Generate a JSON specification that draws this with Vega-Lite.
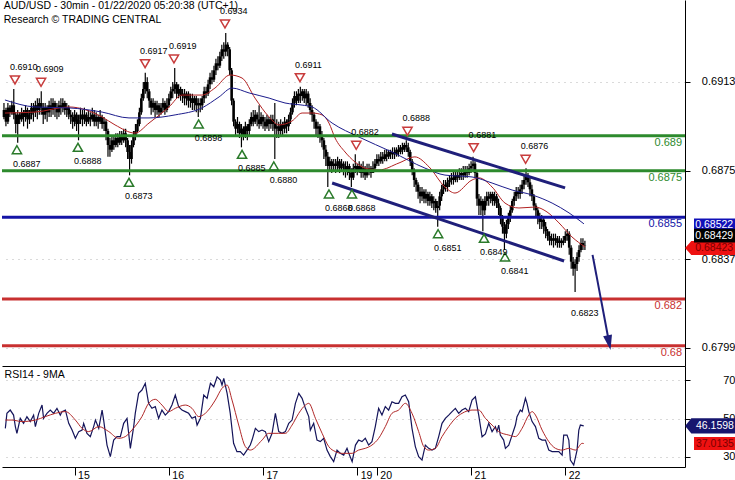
{
"$schema":"https://vega.github.io/schema/vega-lite/v6.json",
"padding":0,
"background":"white",
"spacing":0,
"bounds":"flush",
"config":{"font":"Liberation Sans","view":{"stroke":null}},
"datasets":{
"bars":[
{"t":1,"o":0.6898,"h":0.6904,"l":0.6897,"c":0.6901},
{"t":2,"o":0.6901,"h":0.6902,"l":0.6894,"c":0.6896},
{"t":3,"o":0.6896,"h":0.6904,"l":0.6895,"c":0.6902},
{"t":4,"o":0.6902,"h":0.6903,"l":0.6898,"c":0.69},
{"t":5,"o":0.69,"h":0.6905,"l":0.6899,"c":0.6903},
{"t":6,"o":0.6903,"h":0.691,"l":0.6897,"c":0.6899},
{"t":7,"o":0.6899,"h":0.69,"l":0.6891,"c":0.6895},
{"t":8,"o":0.6895,"h":0.6901,"l":0.6887,"c":0.6899},
{"t":9,"o":0.6899,"h":0.69,"l":0.6895,"c":0.6897},
{"t":10,"o":0.6897,"h":0.6902,"l":0.6896,"c":0.69},
{"t":11,"o":0.69,"h":0.6901,"l":0.6894,"c":0.6898},
{"t":12,"o":0.6898,"h":0.6903,"l":0.6896,"c":0.6901},
{"t":13,"o":0.6901,"h":0.6902,"l":0.6893,"c":0.6897},
{"t":14,"o":0.6897,"h":0.6901,"l":0.6895,"c":0.6899},
{"t":15,"o":0.6899,"h":0.6904,"l":0.6897,"c":0.6902},
{"t":16,"o":0.6902,"h":0.6904,"l":0.6896,"c":0.69},
{"t":17,"o":0.69,"h":0.6905,"l":0.6898,"c":0.6903},
{"t":18,"o":0.6903,"h":0.6906,"l":0.6897,"c":0.6901},
{"t":19,"o":0.6901,"h":0.6906,"l":0.6899,"c":0.6904},
{"t":20,"o":0.6904,"h":0.6909,"l":0.6899,"c":0.6902},
{"t":21,"o":0.6902,"h":0.6904,"l":0.6895,"c":0.6899},
{"t":22,"o":0.6899,"h":0.6904,"l":0.6897,"c":0.6902},
{"t":23,"o":0.6902,"h":0.6903,"l":0.6896,"c":0.69},
{"t":24,"o":0.69,"h":0.6905,"l":0.6898,"c":0.6903},
{"t":25,"o":0.6903,"h":0.6906,"l":0.6898,"c":0.6901},
{"t":26,"o":0.6901,"h":0.6906,"l":0.6899,"c":0.6904},
{"t":27,"o":0.6904,"h":0.6905,"l":0.6898,"c":0.6902},
{"t":28,"o":0.6902,"h":0.6904,"l":0.6897,"c":0.69},
{"t":29,"o":0.69,"h":0.6905,"l":0.6898,"c":0.6903},
{"t":30,"o":0.6903,"h":0.6906,"l":0.6899,"c":0.6902},
{"t":31,"o":0.6902,"h":0.6906,"l":0.69,"c":0.6904},
{"t":32,"o":0.6904,"h":0.6905,"l":0.6899,"c":0.6901},
{"t":33,"o":0.6901,"h":0.6904,"l":0.6898,"c":0.6902},
{"t":34,"o":0.6902,"h":0.6903,"l":0.6897,"c":0.6899},
{"t":35,"o":0.6899,"h":0.6901,"l":0.6895,"c":0.6898},
{"t":36,"o":0.6898,"h":0.69,"l":0.6893,"c":0.6896},
{"t":37,"o":0.6896,"h":0.6901,"l":0.6894,"c":0.6899},
{"t":38,"o":0.6899,"h":0.69,"l":0.6892,"c":0.6895},
{"t":39,"o":0.6895,"h":0.6899,"l":0.6888,"c":0.6897},
{"t":40,"o":0.6897,"h":0.6902,"l":0.6895,"c":0.6899},
{"t":41,"o":0.6899,"h":0.6901,"l":0.6894,"c":0.6897},
{"t":42,"o":0.6897,"h":0.6902,"l":0.6895,"c":0.6899},
{"t":43,"o":0.6899,"h":0.69,"l":0.6894,"c":0.6896},
{"t":44,"o":0.6896,"h":0.6901,"l":0.6895,"c":0.6898},
{"t":45,"o":0.6898,"h":0.69,"l":0.6894,"c":0.6897},
{"t":46,"o":0.6897,"h":0.6902,"l":0.6896,"c":0.6899},
{"t":47,"o":0.6899,"h":0.6901,"l":0.6894,"c":0.6896},
{"t":48,"o":0.6896,"h":0.69,"l":0.6894,"c":0.6898},
{"t":49,"o":0.6898,"h":0.6899,"l":0.6893,"c":0.6896},
{"t":50,"o":0.6896,"h":0.6901,"l":0.6895,"c":0.6898},
{"t":51,"o":0.6898,"h":0.6899,"l":0.6893,"c":0.6895},
{"t":52,"o":0.6895,"h":0.6898,"l":0.6892,"c":0.6896},
{"t":53,"o":0.6896,"h":0.6897,"l":0.6888,"c":0.6892},
{"t":54,"o":0.6892,"h":0.6893,"l":0.6881,"c":0.6886},
{"t":55,"o":0.6886,"h":0.6889,"l":0.6881,"c":0.6884},
{"t":56,"o":0.6884,"h":0.689,"l":0.6883,"c":0.6888},
{"t":57,"o":0.6888,"h":0.689,"l":0.6884,"c":0.6886},
{"t":58,"o":0.6886,"h":0.6891,"l":0.6885,"c":0.6889},
{"t":59,"o":0.6889,"h":0.6891,"l":0.6885,"c":0.6887},
{"t":60,"o":0.6887,"h":0.6892,"l":0.6886,"c":0.689},
{"t":61,"o":0.689,"h":0.6892,"l":0.6886,"c":0.6888},
{"t":62,"o":0.6888,"h":0.6893,"l":0.6887,"c":0.6891},
{"t":63,"o":0.6891,"h":0.6893,"l":0.6885,"c":0.6888},
{"t":64,"o":0.6888,"h":0.6889,"l":0.688,"c":0.6883},
{"t":65,"o":0.6883,"h":0.6886,"l":0.6873,"c":0.688},
{"t":66,"o":0.688,"h":0.6888,"l":0.6878,"c":0.6886},
{"t":67,"o":0.6886,"h":0.6892,"l":0.6885,"c":0.689},
{"t":68,"o":0.689,"h":0.6895,"l":0.6888,"c":0.6892},
{"t":69,"o":0.6892,"h":0.6897,"l":0.6891,"c":0.6895},
{"t":70,"o":0.6895,"h":0.6902,"l":0.6894,"c":0.69},
{"t":71,"o":0.69,"h":0.6908,"l":0.6899,"c":0.6906},
{"t":72,"o":0.6906,"h":0.6913,"l":0.6905,"c":0.691},
{"t":73,"o":0.691,"h":0.6917,"l":0.6908,"c":0.6913},
{"t":74,"o":0.6913,"h":0.6915,"l":0.6906,"c":0.6909},
{"t":75,"o":0.6909,"h":0.691,"l":0.6902,"c":0.6905},
{"t":76,"o":0.6905,"h":0.6906,"l":0.6899,"c":0.6902},
{"t":77,"o":0.6902,"h":0.6906,"l":0.69,"c":0.6904},
{"t":78,"o":0.6904,"h":0.6905,"l":0.6898,"c":0.6901},
{"t":79,"o":0.6901,"h":0.6905,"l":0.6899,"c":0.6903},
{"t":80,"o":0.6903,"h":0.6904,"l":0.6898,"c":0.69},
{"t":81,"o":0.69,"h":0.6904,"l":0.6899,"c":0.6902},
{"t":82,"o":0.6902,"h":0.6906,"l":0.69,"c":0.6904},
{"t":83,"o":0.6904,"h":0.6905,"l":0.6899,"c":0.6901},
{"t":84,"o":0.6901,"h":0.6906,"l":0.69,"c":0.6903},
{"t":85,"o":0.6903,"h":0.6908,"l":0.6902,"c":0.6906},
{"t":86,"o":0.6906,"h":0.6911,"l":0.6905,"c":0.6909},
{"t":87,"o":0.6909,"h":0.6913,"l":0.6906,"c":0.691},
{"t":88,"o":0.691,"h":0.6919,"l":0.6908,"c":0.6912},
{"t":89,"o":0.6912,"h":0.6913,"l":0.6906,"c":0.6908},
{"t":90,"o":0.6908,"h":0.6912,"l":0.6906,"c":0.691},
{"t":91,"o":0.691,"h":0.6911,"l":0.6905,"c":0.6907},
{"t":92,"o":0.6907,"h":0.691,"l":0.6904,"c":0.6908},
{"t":93,"o":0.6908,"h":0.691,"l":0.6903,"c":0.6906},
{"t":94,"o":0.6906,"h":0.6909,"l":0.6903,"c":0.6908},
{"t":95,"o":0.6908,"h":0.6909,"l":0.6902,"c":0.6905},
{"t":96,"o":0.6905,"h":0.6908,"l":0.6902,"c":0.6906},
{"t":97,"o":0.6906,"h":0.6908,"l":0.6901,"c":0.6904},
{"t":98,"o":0.6904,"h":0.6907,"l":0.6901,"c":0.6906},
{"t":99,"o":0.6906,"h":0.6907,"l":0.69,"c":0.6903},
{"t":100,"o":0.6903,"h":0.6906,"l":0.6898,"c":0.6904},
{"t":101,"o":0.6904,"h":0.6906,"l":0.69,"c":0.6903},
{"t":102,"o":0.6903,"h":0.6907,"l":0.6901,"c":0.6906},
{"t":103,"o":0.6906,"h":0.6911,"l":0.6904,"c":0.6909},
{"t":104,"o":0.6909,"h":0.6911,"l":0.6906,"c":0.6908},
{"t":105,"o":0.6908,"h":0.6914,"l":0.6907,"c":0.6912},
{"t":106,"o":0.6912,"h":0.6917,"l":0.691,"c":0.6915},
{"t":107,"o":0.6915,"h":0.6918,"l":0.6912,"c":0.6914},
{"t":108,"o":0.6914,"h":0.692,"l":0.6913,"c":0.6918},
{"t":109,"o":0.6918,"h":0.6923,"l":0.6916,"c":0.6921},
{"t":110,"o":0.6921,"h":0.6924,"l":0.6918,"c":0.692},
{"t":111,"o":0.692,"h":0.6926,"l":0.6919,"c":0.6924},
{"t":112,"o":0.6924,"h":0.6929,"l":0.6922,"c":0.6927},
{"t":113,"o":0.6927,"h":0.693,"l":0.6923,"c":0.6926},
{"t":114,"o":0.6926,"h":0.6934,"l":0.6924,"c":0.6929},
{"t":115,"o":0.6929,"h":0.693,"l":0.6924,"c":0.6927},
{"t":116,"o":0.6927,"h":0.6928,"l":0.6916,"c":0.6918},
{"t":117,"o":0.6918,"h":0.6919,"l":0.6903,"c":0.6905},
{"t":118,"o":0.6905,"h":0.6906,"l":0.6894,"c":0.6896},
{"t":119,"o":0.6896,"h":0.6897,"l":0.689,"c":0.6893},
{"t":120,"o":0.6893,"h":0.6898,"l":0.6891,"c":0.6895},
{"t":121,"o":0.6895,"h":0.6896,"l":0.6889,"c":0.6891},
{"t":122,"o":0.6891,"h":0.6895,"l":0.6885,"c":0.6893},
{"t":123,"o":0.6893,"h":0.6894,"l":0.6888,"c":0.689},
{"t":124,"o":0.689,"h":0.6896,"l":0.6889,"c":0.6894},
{"t":125,"o":0.6894,"h":0.6895,"l":0.6888,"c":0.6892},
{"t":126,"o":0.6892,"h":0.6897,"l":0.689,"c":0.6895},
{"t":127,"o":0.6895,"h":0.69,"l":0.6894,"c":0.6898},
{"t":128,"o":0.6898,"h":0.6901,"l":0.6894,"c":0.6896},
{"t":129,"o":0.6896,"h":0.6901,"l":0.6895,"c":0.6899},
{"t":130,"o":0.6899,"h":0.69,"l":0.6894,"c":0.6897},
{"t":131,"o":0.6897,"h":0.6903,"l":0.6893,"c":0.6895},
{"t":132,"o":0.6895,"h":0.69,"l":0.6894,"c":0.6898},
{"t":133,"o":0.6898,"h":0.6899,"l":0.6893,"c":0.6896},
{"t":134,"o":0.6896,"h":0.6898,"l":0.6892,"c":0.6894},
{"t":135,"o":0.6894,"h":0.6899,"l":0.6893,"c":0.6897},
{"t":136,"o":0.6897,"h":0.6898,"l":0.6892,"c":0.6895},
{"t":137,"o":0.6895,"h":0.6899,"l":0.6893,"c":0.6897},
{"t":138,"o":0.6897,"h":0.6899,"l":0.6892,"c":0.6895},
{"t":139,"o":0.6895,"h":0.6904,"l":0.688,"c":0.6893},
{"t":140,"o":0.6893,"h":0.6897,"l":0.6889,"c":0.6894},
{"t":141,"o":0.6894,"h":0.6896,"l":0.6889,"c":0.6892},
{"t":142,"o":0.6892,"h":0.6897,"l":0.689,"c":0.6895},
{"t":143,"o":0.6895,"h":0.6896,"l":0.689,"c":0.6893},
{"t":144,"o":0.6893,"h":0.6898,"l":0.6891,"c":0.6896},
{"t":145,"o":0.6896,"h":0.6897,"l":0.6891,"c":0.6894},
{"t":146,"o":0.6894,"h":0.6899,"l":0.6892,"c":0.6897},
{"t":147,"o":0.6897,"h":0.6902,"l":0.6895,"c":0.69},
{"t":148,"o":0.69,"h":0.6906,"l":0.6899,"c":0.6904},
{"t":149,"o":0.6904,"h":0.6909,"l":0.6902,"c":0.6907},
{"t":150,"o":0.6907,"h":0.6909,"l":0.6903,"c":0.6905},
{"t":151,"o":0.6905,"h":0.691,"l":0.6904,"c":0.6908},
{"t":152,"o":0.6908,"h":0.6911,"l":0.6904,"c":0.6907},
{"t":153,"o":0.6907,"h":0.691,"l":0.6905,"c":0.6909},
{"t":154,"o":0.6909,"h":0.691,"l":0.6904,"c":0.6906},
{"t":155,"o":0.6906,"h":0.691,"l":0.6903,"c":0.6908},
{"t":156,"o":0.6908,"h":0.6909,"l":0.6902,"c":0.6904},
{"t":157,"o":0.6904,"h":0.6906,"l":0.6899,"c":0.6901},
{"t":158,"o":0.6901,"h":0.6903,"l":0.6896,"c":0.6899},
{"t":159,"o":0.6899,"h":0.69,"l":0.6893,"c":0.6896},
{"t":160,"o":0.6896,"h":0.6897,"l":0.689,"c":0.6893},
{"t":161,"o":0.6893,"h":0.6896,"l":0.6889,"c":0.6894},
{"t":162,"o":0.6894,"h":0.6895,"l":0.6887,"c":0.689},
{"t":163,"o":0.689,"h":0.6892,"l":0.6885,"c":0.6888},
{"t":164,"o":0.6888,"h":0.6889,"l":0.688,"c":0.6884},
{"t":165,"o":0.6884,"h":0.6886,"l":0.6877,"c":0.6881},
{"t":166,"o":0.6881,"h":0.6883,"l":0.6868,"c":0.6877},
{"t":167,"o":0.6877,"h":0.6881,"l":0.6875,"c":0.6879},
{"t":168,"o":0.6879,"h":0.688,"l":0.6874,"c":0.6877},
{"t":169,"o":0.6877,"h":0.688,"l":0.6875,"c":0.6878},
{"t":170,"o":0.6878,"h":0.688,"l":0.6874,"c":0.6877},
{"t":171,"o":0.6877,"h":0.6881,"l":0.6875,"c":0.6879},
{"t":172,"o":0.6879,"h":0.688,"l":0.6874,"c":0.6876},
{"t":173,"o":0.6876,"h":0.688,"l":0.6875,"c":0.6878},
{"t":174,"o":0.6878,"h":0.6879,"l":0.6873,"c":0.6877},
{"t":175,"o":0.6877,"h":0.6879,"l":0.6872,"c":0.6875},
{"t":176,"o":0.6875,"h":0.6879,"l":0.6873,"c":0.6877},
{"t":177,"o":0.6877,"h":0.6878,"l":0.6871,"c":0.6874},
{"t":178,"o":0.6874,"h":0.6876,"l":0.6868,"c":0.6872},
{"t":179,"o":0.6872,"h":0.6878,"l":0.6871,"c":0.6876},
{"t":180,"o":0.6876,"h":0.6882,"l":0.6874,"c":0.6877},
{"t":181,"o":0.6877,"h":0.6878,"l":0.6873,"c":0.6875},
{"t":182,"o":0.6875,"h":0.6879,"l":0.6874,"c":0.6877},
{"t":183,"o":0.6877,"h":0.6878,"l":0.6872,"c":0.6874},
{"t":184,"o":0.6874,"h":0.6879,"l":0.6872,"c":0.6876},
{"t":185,"o":0.6876,"h":0.6877,"l":0.6871,"c":0.6873},
{"t":186,"o":0.6873,"h":0.6878,"l":0.6872,"c":0.6875},
{"t":187,"o":0.6875,"h":0.6878,"l":0.6873,"c":0.6876},
{"t":188,"o":0.6876,"h":0.6877,"l":0.6872,"c":0.6874},
{"t":189,"o":0.6874,"h":0.6879,"l":0.6874,"c":0.6876},
{"t":190,"o":0.6876,"h":0.688,"l":0.6875,"c":0.6878},
{"t":191,"o":0.6878,"h":0.6882,"l":0.6877,"c":0.688},
{"t":192,"o":0.688,"h":0.6882,"l":0.6877,"c":0.6879},
{"t":193,"o":0.6879,"h":0.6883,"l":0.6878,"c":0.6881},
{"t":194,"o":0.6881,"h":0.6883,"l":0.6878,"c":0.688},
{"t":195,"o":0.688,"h":0.6884,"l":0.6879,"c":0.6882},
{"t":196,"o":0.6882,"h":0.6884,"l":0.6879,"c":0.6881},
{"t":197,"o":0.6881,"h":0.6884,"l":0.688,"c":0.6883},
{"t":198,"o":0.6883,"h":0.6884,"l":0.688,"c":0.6882},
{"t":199,"o":0.6882,"h":0.6885,"l":0.688,"c":0.6883},
{"t":200,"o":0.6883,"h":0.6885,"l":0.688,"c":0.6882},
{"t":201,"o":0.6882,"h":0.6885,"l":0.6881,"c":0.6884},
{"t":202,"o":0.6884,"h":0.6886,"l":0.6881,"c":0.6883},
{"t":203,"o":0.6883,"h":0.6886,"l":0.6882,"c":0.6885},
{"t":204,"o":0.6885,"h":0.6887,"l":0.6882,"c":0.6884},
{"t":205,"o":0.6884,"h":0.6887,"l":0.6883,"c":0.6886},
{"t":206,"o":0.6886,"h":0.6888,"l":0.6883,"c":0.6885},
{"t":207,"o":0.6885,"h":0.6887,"l":0.6881,"c":0.6883},
{"t":208,"o":0.6883,"h":0.6884,"l":0.6877,"c":0.6879},
{"t":209,"o":0.6879,"h":0.688,"l":0.6873,"c":0.6875},
{"t":210,"o":0.6875,"h":0.6876,"l":0.6868,"c":0.6871},
{"t":211,"o":0.6871,"h":0.6872,"l":0.6866,"c":0.6869},
{"t":212,"o":0.6869,"h":0.687,"l":0.6863,"c":0.6866},
{"t":213,"o":0.6866,"h":0.6868,"l":0.6861,"c":0.6864},
{"t":214,"o":0.6864,"h":0.6868,"l":0.6862,"c":0.6866},
{"t":215,"o":0.6866,"h":0.6867,"l":0.6861,"c":0.6863},
{"t":216,"o":0.6863,"h":0.6867,"l":0.6861,"c":0.6865},
{"t":217,"o":0.6865,"h":0.6866,"l":0.686,"c":0.6862},
{"t":218,"o":0.6862,"h":0.6866,"l":0.686,"c":0.6864},
{"t":219,"o":0.6864,"h":0.6865,"l":0.6859,"c":0.6861},
{"t":220,"o":0.6861,"h":0.6864,"l":0.6858,"c":0.6862},
{"t":221,"o":0.6862,"h":0.6863,"l":0.6857,"c":0.6859},
{"t":222,"o":0.6859,"h":0.6862,"l":0.6851,"c":0.686},
{"t":223,"o":0.686,"h":0.6866,"l":0.6858,"c":0.6864},
{"t":224,"o":0.6864,"h":0.6869,"l":0.6862,"c":0.6867},
{"t":225,"o":0.6867,"h":0.6871,"l":0.6865,"c":0.6869},
{"t":226,"o":0.6869,"h":0.6871,"l":0.6866,"c":0.6868},
{"t":227,"o":0.6868,"h":0.6872,"l":0.6866,"c":0.687},
{"t":228,"o":0.687,"h":0.6873,"l":0.6868,"c":0.6871},
{"t":229,"o":0.6871,"h":0.6874,"l":0.6869,"c":0.6872},
{"t":230,"o":0.6872,"h":0.6875,"l":0.6869,"c":0.6871},
{"t":231,"o":0.6871,"h":0.6875,"l":0.687,"c":0.6873},
{"t":232,"o":0.6873,"h":0.6875,"l":0.687,"c":0.6872},
{"t":233,"o":0.6872,"h":0.6876,"l":0.6871,"c":0.6873},
{"t":234,"o":0.6873,"h":0.6876,"l":0.6871,"c":0.6874},
{"t":235,"o":0.6874,"h":0.6877,"l":0.6871,"c":0.6873},
{"t":236,"o":0.6873,"h":0.6877,"l":0.6872,"c":0.6875},
{"t":237,"o":0.6875,"h":0.6877,"l":0.6872,"c":0.6874},
{"t":238,"o":0.6874,"h":0.6878,"l":0.6873,"c":0.6876},
{"t":239,"o":0.6876,"h":0.6879,"l":0.6874,"c":0.6877},
{"t":240,"o":0.6877,"h":0.6881,"l":0.6875,"c":0.6878},
{"t":241,"o":0.6878,"h":0.6879,"l":0.6872,"c":0.6874},
{"t":242,"o":0.6874,"h":0.6875,"l":0.686,"c":0.6863},
{"t":243,"o":0.6863,"h":0.6865,"l":0.6856,"c":0.686},
{"t":244,"o":0.686,"h":0.6864,"l":0.6856,"c":0.6862},
{"t":245,"o":0.6862,"h":0.6863,"l":0.6849,"c":0.6858},
{"t":246,"o":0.6858,"h":0.6864,"l":0.6856,"c":0.6862},
{"t":247,"o":0.6862,"h":0.6866,"l":0.686,"c":0.6864},
{"t":248,"o":0.6864,"h":0.6866,"l":0.686,"c":0.6863},
{"t":249,"o":0.6863,"h":0.6866,"l":0.6861,"c":0.6865},
{"t":250,"o":0.6865,"h":0.6866,"l":0.686,"c":0.6862},
{"t":251,"o":0.6862,"h":0.6866,"l":0.686,"c":0.6864},
{"t":252,"o":0.6864,"h":0.6865,"l":0.6859,"c":0.6861},
{"t":253,"o":0.6861,"h":0.6863,"l":0.6856,"c":0.6859},
{"t":254,"o":0.6859,"h":0.686,"l":0.6852,"c":0.6855},
{"t":255,"o":0.6855,"h":0.6856,"l":0.6848,"c":0.6851},
{"t":256,"o":0.6851,"h":0.6853,"l":0.6841,"c":0.6848},
{"t":257,"o":0.6848,"h":0.6854,"l":0.6846,"c":0.6852},
{"t":258,"o":0.6852,"h":0.6857,"l":0.685,"c":0.6855},
{"t":259,"o":0.6855,"h":0.686,"l":0.6853,"c":0.6858},
{"t":260,"o":0.6858,"h":0.6863,"l":0.6857,"c":0.6862},
{"t":261,"o":0.6862,"h":0.6866,"l":0.686,"c":0.6864},
{"t":262,"o":0.6864,"h":0.6868,"l":0.6862,"c":0.6866},
{"t":263,"o":0.6866,"h":0.6868,"l":0.6863,"c":0.6865},
{"t":264,"o":0.6865,"h":0.6869,"l":0.6863,"c":0.6867},
{"t":265,"o":0.6867,"h":0.6871,"l":0.6865,"c":0.6869},
{"t":266,"o":0.6869,"h":0.6873,"l":0.6867,"c":0.6871},
{"t":267,"o":0.6871,"h":0.6876,"l":0.6869,"c":0.6873},
{"t":268,"o":0.6873,"h":0.6874,"l":0.6868,"c":0.687},
{"t":269,"o":0.687,"h":0.6872,"l":0.6864,"c":0.6867},
{"t":270,"o":0.6867,"h":0.6869,"l":0.6862,"c":0.6864},
{"t":271,"o":0.6864,"h":0.6865,"l":0.6858,"c":0.686},
{"t":272,"o":0.686,"h":0.6861,"l":0.6855,"c":0.6858},
{"t":273,"o":0.6858,"h":0.6859,"l":0.6852,"c":0.6855},
{"t":274,"o":0.6855,"h":0.6857,"l":0.685,"c":0.6853},
{"t":275,"o":0.6853,"h":0.6856,"l":0.685,"c":0.6854},
{"t":276,"o":0.6854,"h":0.6855,"l":0.6848,"c":0.6851},
{"t":277,"o":0.6851,"h":0.6853,"l":0.6846,"c":0.6849},
{"t":278,"o":0.6849,"h":0.685,"l":0.6845,"c":0.6847},
{"t":279,"o":0.6847,"h":0.6849,"l":0.6843,"c":0.6845},
{"t":280,"o":0.6845,"h":0.6848,"l":0.6843,"c":0.6846},
{"t":281,"o":0.6846,"h":0.6848,"l":0.6842,"c":0.6845},
{"t":282,"o":0.6845,"h":0.6848,"l":0.6843,"c":0.6846},
{"t":283,"o":0.6846,"h":0.6847,"l":0.6842,"c":0.6844},
{"t":284,"o":0.6844,"h":0.6847,"l":0.6842,"c":0.6845},
{"t":285,"o":0.6845,"h":0.6846,"l":0.6842,"c":0.6844},
{"t":286,"o":0.6844,"h":0.6847,"l":0.6843,"c":0.6845},
{"t":287,"o":0.6845,"h":0.6849,"l":0.6844,"c":0.6847},
{"t":288,"o":0.6847,"h":0.685,"l":0.6845,"c":0.6848},
{"t":289,"o":0.6848,"h":0.6849,"l":0.6839,"c":0.6842},
{"t":290,"o":0.6842,"h":0.6843,"l":0.6833,"c":0.6836},
{"t":291,"o":0.6836,"h":0.6838,"l":0.683,"c":0.6833},
{"t":292,"o":0.6833,"h":0.6837,"l":0.6823,"c":0.6835},
{"t":293,"o":0.6835,"h":0.684,"l":0.6832,"c":0.6838},
{"t":294,"o":0.6838,"h":0.6843,"l":0.6836,"c":0.6841},
{"t":295,"o":0.6841,"h":0.6846,"l":0.684,"c":0.6844},
{"t":296,"o":0.6844,"h":0.6846,"l":0.6841,"c":0.6843},
{"t":297,"o":0.6843,"h":0.6845,"l":0.6841,"c":0.68429}
],
"mared":[
{"t":1.5,"p":0.68997},{"t":16.8,"p":0.69001},{"t":34.1,"p":0.69023},{"t":51,"p":0.6898},{"t":57.6,"p":0.68946},{"t":67.8,"p":0.68911},{"t":74.9,"p":0.68954},{"t":85.1,"p":0.69023},{"t":91.7,"p":0.69074},{"t":101.9,"p":0.69074},{"t":108.5,"p":0.69104},{"t":116.2,"p":0.6916},{"t":122.3,"p":0.69147},{"t":128.9,"p":0.69061},{"t":136.1,"p":0.6898},{"t":141.1,"p":0.68946},{"t":147.8,"p":0.68963},{"t":152.9,"p":0.68997},{"t":158,"p":0.68997},{"t":163.1,"p":0.68989},{"t":166.6,"p":0.68954},{"t":169.7,"p":0.6889},{"t":174.8,"p":0.6883},{"t":179.9,"p":0.68787},{"t":185,"p":0.68761},{"t":192.1,"p":0.68753},{"t":202.3,"p":0.68783},{"t":210.4,"p":0.68809},{"t":217.6,"p":0.68766},{"t":225.7,"p":0.6868},{"t":230.8,"p":0.68654},{"t":239.5,"p":0.6871},{"t":243.1,"p":0.68719},{"t":249.7,"p":0.6868},{"t":256.3,"p":0.68611},{"t":263.4,"p":0.6859},{"t":271.6,"p":0.68594},{"t":277.7,"p":0.68573},{"t":283.8,"p":0.68526},{"t":290.4,"p":0.68466},{"t":297.1,"p":0.68423}
],
"mablue":[
{"t":1.5,"p":0.69053},{"t":16.8,"p":0.69023},{"t":34.1,"p":0.69019},{"t":51,"p":0.69001},{"t":64.7,"p":0.68976},{"t":74.9,"p":0.68976},{"t":88.2,"p":0.68989},{"t":101.9,"p":0.69019},{"t":110.6,"p":0.69066},{"t":117.2,"p":0.69104},{"t":125.9,"p":0.69083},{"t":136.1,"p":0.69061},{"t":144.2,"p":0.6904},{"t":152.9,"p":0.69031},{"t":158,"p":0.69023},{"t":168.2,"p":0.68954},{"t":181.9,"p":0.68894},{"t":198.7,"p":0.6883},{"t":215.5,"p":0.68761},{"t":225.7,"p":0.68731},{"t":239.5,"p":0.68723},{"t":249.7,"p":0.68697},{"t":259.9,"p":0.68667},{"t":270.1,"p":0.68646},{"t":280.3,"p":0.68611},{"t":288.9,"p":0.68569},{"t":296.5,"p":0.68522}
],
"levels":[
{"level":0.689,"label":"0.689","kind":"resistance"},
{"level":0.6875,"label":"0.6875","kind":"resistance"},
{"level":0.6855,"label":"0.6855","kind":"pivot"},
{"level":0.682,"label":"0.682","kind":"support"},
{"level":0.68,"label":"0.68","kind":"support"}
],
"marks":[
{"t":6.6,"p":0.691,"type":"high","label":"0.6910"},
{"t":19.9,"p":0.6909,"type":"high","label":"0.6909"},
{"t":72.9,"p":0.6917,"type":"high","label":"0.6917"},
{"t":87.6,"p":0.6919,"type":"high","label":"0.6919"},
{"t":113.6,"p":0.6934,"type":"high","label":"0.6934"},
{"t":151.8,"p":0.6911,"type":"high","label":"0.6911"},
{"t":180.5,"p":0.6882,"type":"high","label":"0.6882"},
{"t":206.6,"p":0.6888,"type":"high","label":"0.6888"},
{"t":240.3,"p":0.6881,"type":"high","label":"0.6881"},
{"t":266.8,"p":0.6876,"type":"high","label":"0.6876"},
{"t":7.6,"p":0.6887,"type":"low","label":"0.6887"},
{"t":38.7,"p":0.6888,"type":"low","label":"0.6888"},
{"t":64.7,"p":0.6873,"type":"low","label":"0.6873"},
{"t":100.2,"p":0.6898,"type":"low","label":"0.6898"},
{"t":122.3,"p":0.6885,"type":"low","label":"0.6885"},
{"t":138.5,"p":0.688,"type":"low","label":"0.6880"},
{"t":166.6,"p":0.6868,"type":"low","label":"0.6868"},
{"t":178.3,"p":0.6868,"type":"low","label":"0.6868"},
{"t":222.2,"p":0.6851,"type":"low","label":"0.6851"},
{"t":245.6,"p":0.6849,"type":"low","label":"0.6849"},
{"t":256.3,"p":0.6841,"type":"low","label":"0.6841"},
{"t":292,"p":0.6823,"type":"note","label":"0.6823"}
],
"channel":[
{"line":"upper","t":198.7,"p":0.68907},{"line":"upper","t":286.9,"p":0.68676},
{"line":"lower","t":168.2,"p":0.68697},{"line":"lower","t":286.4,"p":0.68363}
],
"arrow":[{"t":300.9,"p":0.68389},{"t":308.8,"p":0.68037}],
"arrowhead":[{"t":309.3,"p":0.68013}],
"rsi":[
{"t":1.7,"v":44.9},{"t":2.5,"v":52.7},{"t":4.2,"v":54.4},{"t":5.9,"v":51.8},{"t":6.8,"v":45.8},{"t":7.6,"v":42.3},{"t":9.3,"v":50.1},{"t":11,"v":47.5},{"t":12.7,"v":50.9},{"t":14.4,"v":48.4},{"t":16.1,"v":51.8},{"t":17,"v":45.8},{"t":18.7,"v":52.7},{"t":20.4,"v":57},{"t":21.2,"v":50.1},{"t":22.9,"v":52.7},{"t":24.6,"v":54.4},{"t":26.3,"v":52.7},{"t":28,"v":55.3},{"t":29.7,"v":51.8},{"t":30.6,"v":53.6},{"t":32.3,"v":54.4},{"t":34,"v":47.5},{"t":35.7,"v":44},{"t":37.4,"v":39.7},{"t":39.1,"v":43.2},{"t":40.8,"v":44},{"t":41.6,"v":47.5},{"t":43.3,"v":42.3},{"t":45,"v":40.6},{"t":46.7,"v":45.8},{"t":47.6,"v":49.2},{"t":49.3,"v":44.9},{"t":51,"v":54.4},{"t":51.8,"v":49.2},{"t":53.5,"v":36.2},{"t":55.2,"v":30.2},{"t":56.9,"v":38.8},{"t":58.6,"v":40.6},{"t":60.3,"v":40.6},{"t":62,"v":47.5},{"t":63.7,"v":50.1},{"t":65.4,"v":34.5},{"t":67.1,"v":45.8},{"t":67.9,"v":52.7},{"t":69.6,"v":63.1},{"t":71.3,"v":64.8},{"t":73,"v":68.3},{"t":74.7,"v":57.9},{"t":76.4,"v":55.3},{"t":78.1,"v":56.2},{"t":79.8,"v":50.1},{"t":81.5,"v":54.4},{"t":83.2,"v":51.8},{"t":84.9,"v":53.6},{"t":86.6,"v":57},{"t":88.3,"v":62.2},{"t":90,"v":56.2},{"t":91.7,"v":54.4},{"t":93.4,"v":53.6},{"t":95.1,"v":52.7},{"t":96.8,"v":50.1},{"t":98.5,"v":51},{"t":99.4,"v":46.6},{"t":101.1,"v":50.1},{"t":102.8,"v":62.2},{"t":104.5,"v":60.5},{"t":106.2,"v":68.3},{"t":107.9,"v":66.5},{"t":109.6,"v":71.7},{"t":111.3,"v":70},{"t":112.1,"v":67.4},{"t":113,"v":70.9},{"t":114.7,"v":63.1},{"t":116.3,"v":52.7},{"t":118,"v":37.1},{"t":119.7,"v":32.8},{"t":121.4,"v":32.8},{"t":123.1,"v":31},{"t":124.8,"v":33.6},{"t":126.5,"v":36.2},{"t":127.4,"v":38.8},{"t":129.1,"v":44.9},{"t":130.8,"v":43.2},{"t":132.5,"v":44},{"t":134.2,"v":43.2},{"t":135.9,"v":38},{"t":137.6,"v":42.3},{"t":139.3,"v":52.7},{"t":141,"v":43.2},{"t":142.7,"v":42.3},{"t":144.4,"v":43.2},{"t":146.1,"v":47.5},{"t":147.8,"v":49.2},{"t":149.5,"v":57.9},{"t":151.2,"v":63.1},{"t":152.9,"v":60.5},{"t":154.6,"v":55.3},{"t":156.3,"v":51},{"t":157.1,"v":44},{"t":158.8,"v":47.5},{"t":160.5,"v":38.8},{"t":162.2,"v":38},{"t":163.9,"v":39.7},{"t":165.6,"v":33.6},{"t":167.3,"v":30.2},{"t":169,"v":27.6},{"t":170.7,"v":33.6},{"t":172.4,"v":31.9},{"t":174.1,"v":31},{"t":175.8,"v":34.5},{"t":176.7,"v":31.9},{"t":178.4,"v":27.6},{"t":180.1,"v":36.2},{"t":181.7,"v":38.8},{"t":183.4,"v":38},{"t":185.1,"v":39.7},{"t":186.8,"v":36.2},{"t":188.5,"v":38},{"t":190.2,"v":45.8},{"t":191.9,"v":55.3},{"t":193.6,"v":51.8},{"t":195.3,"v":56.2},{"t":197,"v":54.4},{"t":198.7,"v":58.7},{"t":200.4,"v":57.9},{"t":202.1,"v":57.9},{"t":203.8,"v":61.3},{"t":205.5,"v":62.2},{"t":207.2,"v":58.7},{"t":208.9,"v":44.9},{"t":210.6,"v":35.4},{"t":212.3,"v":30.2},{"t":214,"v":28.4},{"t":215.7,"v":36.2},{"t":217.4,"v":34.5},{"t":219.1,"v":33.6},{"t":220.8,"v":34.5},{"t":222.5,"v":40.6},{"t":224.2,"v":47.5},{"t":225.9,"v":50.1},{"t":227.6,"v":51.8},{"t":229.3,"v":53.6},{"t":231,"v":55.3},{"t":232.7,"v":52.7},{"t":234.4,"v":54.4},{"t":236.1,"v":55.3},{"t":237.8,"v":53.6},{"t":239.5,"v":59.6},{"t":241.2,"v":61.3},{"t":242.9,"v":51.8},{"t":244.6,"v":40.5},{"t":246.3,"v":42},{"t":248,"v":47.5},{"t":249.7,"v":43.2},{"t":251.4,"v":45.8},{"t":252.2,"v":43.2},{"t":253.1,"v":46.6},{"t":253.9,"v":41.4},{"t":255.6,"v":38.8},{"t":256.5,"v":34.5},{"t":258.2,"v":36.2},{"t":259.9,"v":41.4},{"t":261.6,"v":46.6},{"t":262.4,"v":51},{"t":263.3,"v":52.7},{"t":264.1,"v":54.4},{"t":265,"v":53.6},{"t":266.7,"v":60.5},{"t":267.5,"v":57.9},{"t":268.4,"v":53.6},{"t":270.1,"v":48.4},{"t":271.8,"v":45.8},{"t":273.5,"v":39.7},{"t":275.2,"v":38.8},{"t":276.9,"v":38.8},{"t":278.6,"v":33.6},{"t":280.3,"v":32.8},{"t":282,"v":32.8},{"t":283.7,"v":32.8},{"t":285.4,"v":31},{"t":286.2,"v":41.4},{"t":287.9,"v":41.4},{"t":288.8,"v":38.8},{"t":289.6,"v":28.4},{"t":291.3,"v":25.8},{"t":293,"v":33.6},{"t":293.9,"v":44},{"t":294.7,"v":46.6},{"t":296.4,"v":46.2}
],
"rsima":[
{"t":1.7,"v":49.2},{"t":5.1,"v":49.2},{"t":10.2,"v":48.4},{"t":17,"v":49.2},{"t":22.1,"v":51},{"t":27.2,"v":52.7},{"t":32.3,"v":53.6},{"t":37.4,"v":49.2},{"t":40.8,"v":44.9},{"t":44.2,"v":43.2},{"t":49.3,"v":45.8},{"t":54.4,"v":43.2},{"t":59.4,"v":39.7},{"t":62.8,"v":40.6},{"t":66.2,"v":44},{"t":71.3,"v":51},{"t":74.7,"v":57.9},{"t":78.1,"v":60},{"t":81.5,"v":57},{"t":84.9,"v":53.6},{"t":88.3,"v":55.3},{"t":93.4,"v":57},{"t":96.8,"v":55.3},{"t":100.2,"v":51},{"t":103.6,"v":52.7},{"t":108.7,"v":59.6},{"t":112.1,"v":65.7},{"t":114.7,"v":67.4},{"t":117.2,"v":59.6},{"t":120.6,"v":46.6},{"t":124,"v":35.4},{"t":126.5,"v":33.6},{"t":132.5,"v":38.8},{"t":135.9,"v":42.3},{"t":141,"v":42.3},{"t":144.4,"v":42.3},{"t":147.8,"v":46.6},{"t":151.2,"v":52.7},{"t":154.6,"v":57},{"t":156.3,"v":57.9},{"t":159.7,"v":50.1},{"t":163.1,"v":42.3},{"t":166.5,"v":35.4},{"t":169.9,"v":32.8},{"t":173.3,"v":31.9},{"t":178.4,"v":31.9},{"t":181.7,"v":33.6},{"t":185.1,"v":34.5},{"t":188.5,"v":36.2},{"t":191.9,"v":39.7},{"t":195.3,"v":45.8},{"t":198.7,"v":52.7},{"t":202.1,"v":54.4},{"t":205.5,"v":57.9},{"t":208.9,"v":52.7},{"t":212.3,"v":43.2},{"t":214.9,"v":35.4},{"t":217.4,"v":33.6},{"t":220.8,"v":34.5},{"t":224.2,"v":40.6},{"t":227.6,"v":45.8},{"t":231,"v":50.1},{"t":234.4,"v":52.7},{"t":239.5,"v":54.4},{"t":242.9,"v":54.4},{"t":246.3,"v":50.1},{"t":249.7,"v":46.6},{"t":253.1,"v":43.2},{"t":258.2,"v":41.4},{"t":261.6,"v":40.6},{"t":265,"v":44.9},{"t":268.4,"v":51.8},{"t":270.1,"v":53.6},{"t":271.8,"v":51.8},{"t":275.2,"v":44},{"t":278.6,"v":38},{"t":282,"v":34.5},{"t":285.4,"v":33.6},{"t":288.8,"v":34.5},{"t":292.2,"v":33.6},{"t":295.6,"v":37.1},{"t":296.4,"v":37}
]
},
"vconcat":[
{
"width":683,"height":366,
"layer":[
{"data":{"name":"bars"},"mark":{"type":"rule","color":"black","strokeWidth":1.2},
 "encoding":{
  "x":{"field":"t","type":"quantitative","scale":{"domain":[0,348],"nice":false,"zero":false},"axis":{"orient":"bottom","title":null,"labels":false,"ticks":false,"grid":false,"domain":true,"domainColor":"black","domainWidth":1}},
  "y":{"field":"l","type":"quantitative","scale":{"domain":[0.679128,0.694814],"nice":false,"zero":false},"axis":{"orient":"right","title":null,"values":[0.6913,0.6875,0.6837,0.6799],"format":".4f","grid":true,"gridColor":"#b4b4b4","gridDash":[1,5],"domainColor":"black","tickColor":"black","tickSize":5,"labelAlign":"right","labelPadding":45,"labelFontSize":11,"labelColor":"black","labelBaseline":"middle"}},
  "y2":{"field":"h"}}},
{"data":{"name":"bars"},"mark":{"type":"rule","color":"black","strokeWidth":2.6},
 "encoding":{"x":{"field":"t","type":"quantitative"},"y":{"field":"o","type":"quantitative"},"y2":{"field":"c"}}},
{"data":{"name":"mared"},"mark":{"type":"line","color":"#b22222","strokeWidth":1,"interpolate":"monotone"},
 "encoding":{"x":{"field":"t","type":"quantitative"},"y":{"field":"p","type":"quantitative"}}},
{"data":{"name":"mablue"},"mark":{"type":"line","color":"#1c1c8c","strokeWidth":1,"interpolate":"monotone"},
 "encoding":{"x":{"field":"t","type":"quantitative"},"y":{"field":"p","type":"quantitative"}}},
{"data":{"name":"levels"},"mark":{"type":"rule","strokeWidth":3},
 "encoding":{"y":{"field":"level","type":"quantitative"},
  "color":{"field":"kind","type":"nominal","scale":{"domain":["resistance","pivot","support"],"range":["#2d8a2d","#1414a6","#c83030"]},"legend":null}}},
{"data":{"name":"levels"},"mark":{"type":"text","align":"right","baseline":"middle","dy":7,"fontSize":11},
 "encoding":{"x":{"datum":346.5,"type":"quantitative"},"y":{"field":"level","type":"quantitative"},"text":{"field":"label"},
  "color":{"field":"kind","type":"nominal","legend":null}}},
{"data":{"name":"channel"},"mark":{"type":"line","color":"#1f1f7a","strokeWidth":3},
 "encoding":{"x":{"field":"t","type":"quantitative"},"y":{"field":"p","type":"quantitative"},"detail":{"field":"line"}}},
{"data":{"name":"arrow"},"mark":{"type":"line","color":"#1f1f7a","strokeWidth":2},
 "encoding":{"x":{"field":"t","type":"quantitative"},"y":{"field":"p","type":"quantitative"}}},
{"data":{"name":"arrowhead"},"mark":{"type":"point","shape":"M-0.6,-1L0.6,-1L0,1Z","size":225,"angle":-11.4,"filled":true,"color":"#1f1f7a","opacity":1,"strokeWidth":0},
 "encoding":{"x":{"field":"t","type":"quantitative"},"y":{"field":"p","type":"quantitative"}}},
{"data":{"name":"marks"},"transform":[{"filter":"datum.type=='high'"}],
 "mark":{"type":"point","shape":"triangle-down","size":85,"filled":false,"stroke":"#c83c3c","strokeWidth":1.5,"opacity":1,"yOffset":-9},
 "encoding":{"x":{"field":"t","type":"quantitative"},"y":{"field":"p","type":"quantitative"}}},
{"data":{"name":"marks"},"transform":[{"filter":"datum.type=='low'"}],
 "mark":{"type":"point","shape":"triangle-up","size":85,"filled":false,"stroke":"#2a7a2a","strokeWidth":1.5,"opacity":1,"yOffset":7},
 "encoding":{"x":{"field":"t","type":"quantitative"},"y":{"field":"p","type":"quantitative"}}},
{"data":{"name":"marks"},"transform":[{"filter":"datum.type=='high'"}],
 "mark":{"type":"text","align":"left","baseline":"middle","dx":-5,"dy":-22,"fontSize":9,"color":"black"},
 "encoding":{"x":{"field":"t","type":"quantitative"},"y":{"field":"p","type":"quantitative"},"text":{"field":"label"}}},
{"data":{"name":"marks"},"transform":[{"filter":"datum.type!='high'"}],
 "mark":{"type":"text","align":"left","baseline":"middle","dx":-4,"dy":21,"fontSize":9,"color":"black"},
 "encoding":{"x":{"field":"t","type":"quantitative"},"y":{"field":"p","type":"quantitative"},"text":{"field":"label"}}},
{"data":{"values":[{}]},"mark":{"type":"text","text":"AUD/USD - 30min - 01/22/2020 05:20:38 (UTC+1)","align":"left","baseline":"middle","fontSize":10.5,"color":"black"},
 "encoding":{"x":{"datum":0.9,"type":"quantitative"},"y":{"datum":0.69456,"type":"quantitative"}}},
{"data":{"values":[{}]},"mark":{"type":"text","text":"Research © TRADING CENTRAL","align":"left","baseline":"middle","fontSize":10.5,"color":"black"},
 "encoding":{"x":{"datum":0.9,"type":"quantitative"},"y":{"datum":0.69396,"type":"quantitative"}}},
{"data":{"values":[{"value":0.68522,"label":"0.68522"}]},"mark":{"type":"point","shape":"M-1,-0.32L1,-0.32L1,0.32L-1,0.32Z","size":1849,"filled":true,"color":"#1010b8","opacity":1,"strokeWidth":0,"yOffset":1.5},
 "encoding":{"x":{"datum":363.55,"type":"quantitative"},"y":{"field":"value","type":"quantitative"}}},
{"data":{"values":[{"value":0.68522,"label":"0.68522"}]},"mark":{"type":"text","align":"left","baseline":"middle","fontSize":10.5,"color":"white","yOffset":1.5},
 "encoding":{"x":{"datum":353.2,"type":"quantitative"},"y":{"field":"value","type":"quantitative"},"text":{"field":"label"}}},
{"data":{"values":[{"value":0.68423,"label":"0.68423"}]},"mark":{"type":"point","shape":"M-1,0L-0.76,-0.27L1,-0.27L1,0.27L-0.76,0.27Z","size":2704,"filled":true,"color":"#ee1111","opacity":1,"strokeWidth":0,"yOffset":1},
 "encoding":{"x":{"datum":361.3,"type":"quantitative"},"y":{"field":"value","type":"quantitative"}}},
{"data":{"values":[{"value":0.68423,"label":"0.68423"}]},"mark":{"type":"text","align":"left","baseline":"middle","fontSize":10.5,"color":"#7a0000","yOffset":1},
 "encoding":{"x":{"datum":353.2,"type":"quantitative"},"y":{"field":"value","type":"quantitative"},"text":{"field":"label"}}},
{"data":{"values":[{"value":0.68429,"label":"0.68429"}]},"mark":{"type":"point","shape":"M-1,-0.32L1,-0.32L1,0.32L-1,0.32Z","size":1849,"filled":true,"color":"black","opacity":1,"strokeWidth":0,"yOffset":-10},
 "encoding":{"x":{"datum":363.55,"type":"quantitative"},"y":{"field":"value","type":"quantitative"}}},
{"data":{"values":[{"value":0.68429,"label":"0.68429"}]},"mark":{"type":"text","align":"left","baseline":"middle","fontSize":10.5,"color":"white","yOffset":-10},
 "encoding":{"x":{"datum":353.2,"type":"quantitative"},"y":{"field":"value","type":"quantitative"},"text":{"field":"label"}}}
]
},
{
"width":683,"height":101,
"layer":[
{"data":{"name":"rsi"},"mark":{"type":"line","color":"#14145a","strokeWidth":1.2},
 "encoding":{
  "x":{"field":"t","type":"quantitative","scale":{"domain":[0,348],"nice":false,"zero":false},
   "axis":{"orient":"bottom","title":null,"values":[37,85,133,181,191,239,287],
    "labelExpr":"datum.value==37?'15':datum.value==85?'16':datum.value==133?'17':datum.value==181?'19':datum.value==191?'20':datum.value==239?'21':'22'",
    "grid":false,"domainColor":"black","tickColor":"black","tickSize":8,"labelAlign":"left","labelBaseline":"top","labelPadding":-5,"labelOffset":3,"labelFontSize":10.5,"labelColor":"black","labelOverlap":false,"labelFlush":false}},
  "y":{"field":"v","type":"quantitative","scale":{"domain":[24.8,77.3],"nice":false,"zero":false},
   "axis":{"orient":"right","title":null,"values":[30,50,70],"grid":true,"gridColor":"#b4b4b4","gridDash":[1,5],"domainColor":"black","tickColor":"black","tickSize":5,"labelAlign":"right","labelPadding":45,"labelFontSize":11,"labelColor":"black","labelBaseline":"middle"}}}},
{"data":{"name":"rsima"},"mark":{"type":"line","color":"#b02828","strokeWidth":1,"interpolate":"monotone"},
 "encoding":{"x":{"field":"t","type":"quantitative"},"y":{"field":"v","type":"quantitative"}}},
{"data":{"values":[{}]},"mark":{"type":"text","text":"RSI14 - 9MA","align":"left","baseline":"middle","fontSize":10.5,"color":"black"},
 "encoding":{"x":{"datum":1.3,"type":"quantitative"},"y":{"datum":72.6,"type":"quantitative"}}},
{"data":{"values":[{"value":46.1598,"label":"46.1598"}]},"mark":{"type":"point","shape":"M-1,0L-0.76,-0.29L1,-0.29L1,0.29L-0.76,0.29Z","size":2704,"filled":true,"color":"#16166e","opacity":1,"strokeWidth":0},
 "encoding":{"x":{"datum":361.3,"type":"quantitative"},"y":{"field":"value","type":"quantitative"}}},
{"data":{"values":[{"value":46.1598,"label":"46.1598"}]},"mark":{"type":"text","align":"left","baseline":"middle","fontSize":10.5,"color":"white"},
 "encoding":{"x":{"datum":353.6,"type":"quantitative"},"y":{"field":"value","type":"quantitative"},"text":{"field":"label"}}},
{"data":{"values":[{"value":37.0135,"label":"37.0135"}]},"mark":{"type":"point","shape":"M-1,-0.3L1,-0.3L1,0.3L-1,0.3Z","size":1849,"filled":true,"color":"#ee1111","opacity":1,"strokeWidth":0},
 "encoding":{"x":{"datum":363.55,"type":"quantitative"},"y":{"field":"value","type":"quantitative"}}},
{"data":{"values":[{"value":37.0135,"label":"37.0135"}]},"mark":{"type":"text","align":"left","baseline":"middle","fontSize":10.5,"color":"#7a0000"},
 "encoding":{"x":{"datum":353.6,"type":"quantitative"},"y":{"field":"value","type":"quantitative"},"text":{"field":"label"}}}
]
}
]
}
